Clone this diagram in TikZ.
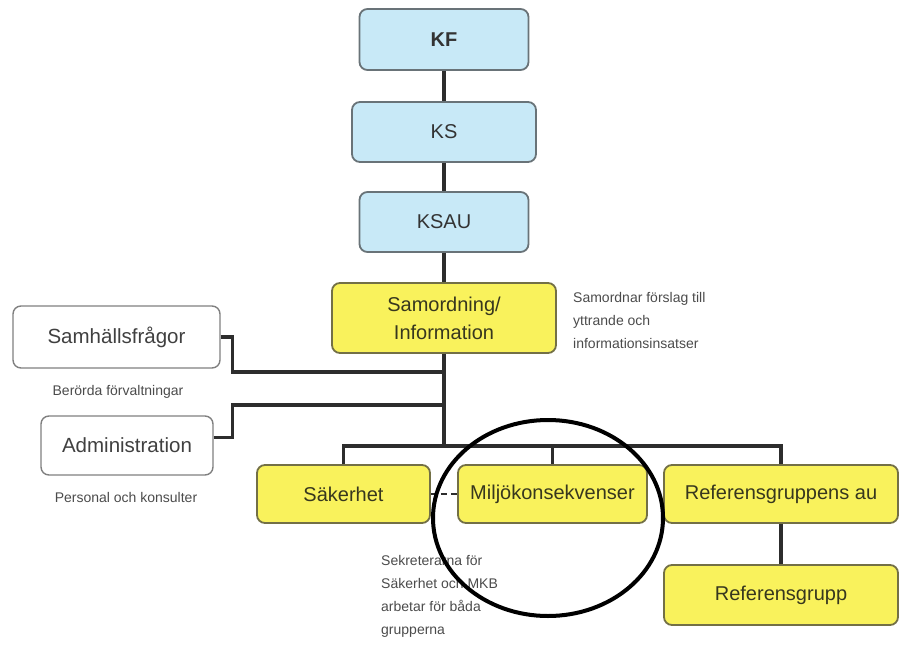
\documentclass[tikz,border=0pt]{standalone}
\usepackage{fontspec}
\setmainfont{Liberation Sans}
\usetikzlibrary{calc}
\definecolor{kfblue}{RGB}{200,233,247}
\definecolor{kfedge}{RGB}{105,115,120}
\definecolor{boxyellow}{RGB}{249,242,92}
\definecolor{yedge}{RGB}{115,112,70}
\definecolor{ytext}{RGB}{55,55,30}
\definecolor{linegray}{RGB}{45,45,45}
\definecolor{notegray}{RGB}{75,75,75}
\tikzstyle{bluebox} = [draw=kfedge, line width=1.8pt, fill=kfblue, rounded corners=8pt, text=black!80, font=\fontsize{20}{24}\selectfont]
\tikzstyle{yellowbox} = [draw=yedge, line width=1.8pt, fill=boxyellow, rounded corners=8pt, text=ytext, font=\fontsize{20}{28}\selectfont, align=center]
\tikzstyle{whitebox} = [draw=gray, line width=1.4pt, fill=white, rounded corners=8pt, text=black!75, font=\fontsize{20.5}{24}\selectfont]
\tikzstyle{note} = [text=notegray, font=\fontsize{14}{23}\selectfont, align=left, inner sep=0pt]
\tikzstyle{link} = [line width=3.2pt, draw=linegray]

\begin{document}
\begin{tikzpicture}[x=1pt, y=-1pt]
    \useasboundingbox (0,0) rectangle (900,646);

    \node at (444,39.5) [bluebox, minimum width=169pt, minimum height=61pt](kf) {\textbf{KF}};
    \node at (444,132) [bluebox, minimum width=184pt, minimum height=60pt](ks) {KS};
    \node at (444,222) [bluebox, minimum width=169pt, minimum height=60pt](ksau) {KSAU};
    \node at (444,318) [yellowbox, minimum width=224pt, minimum height=70pt](samord) {Samordning/\\Information};

    \node at (116.5,337) [whitebox, minimum width=207pt, minimum height=62pt](samh) {Samhällsfrågor};
    \node at (127,445.5) [whitebox, minimum width=172pt, minimum height=59pt](admin) {Administration};

    \node at (343.5,494) [yellowbox, minimum width=173pt, minimum height=58pt](sak) {Säkerhet};
    \node at (552.5,494) [yellowbox, minimum width=189pt, minimum height=58pt](miljo) {Miljökonsekvenser};
    \node at (781,494) [yellowbox, minimum width=234pt, minimum height=58pt](refau) {Referensgruppens au};
    \node at (781,595) [yellowbox, minimum width=234pt, minimum height=60pt](refgr) {Referensgrupp};

    % notes
    \node at (573,292) [note, anchor=north west](samnote) {Samordnar förslag till\\yttrande och\\informationsinsatser};
    \node at (118,392) [note](berorda) {Berörda förvaltningar};
    \node at (126,497) [note](personal) {Personal och konsulter};
    \node at (381,555) [note, anchor=north west](sekr) {Sekreterarna för\\Säkerhet och MKB\\arbetar för båda\\grupperna};

    \coordinate (hub1) at (444,372);
    \coordinate (hub2) at (444,405);
    \coordinate (bus) at (444,446);

    \draw[link] (kf.south) -- (ks.north);
    \draw[link] (ks.south) -- (ksau.north);
    \draw[link] (ksau.south) -- (samord.north);
    \draw[link] (samord.south) -- (bus);
    \draw[link] (samh.east) -- ++(12,0) |- (hub1);
    \draw[link] ([yshift=8pt]admin.east) -- ++(19,0) |- (hub2);
    \draw[link] (sak.north) |- (bus) -| (refau.north);
    \draw[link] (miljo.north) -- (miljo.north |- bus);
    \draw[link] (refau.south) -- (refgr.north);
    \draw[link, line width=2pt, dash pattern=on 6pt off 4pt] (sak.east) -- (miljo.west);

    \draw[line width=4pt] (548,518) ellipse [x radius=115pt, y radius=98pt];

\end{tikzpicture}
\end{document}
